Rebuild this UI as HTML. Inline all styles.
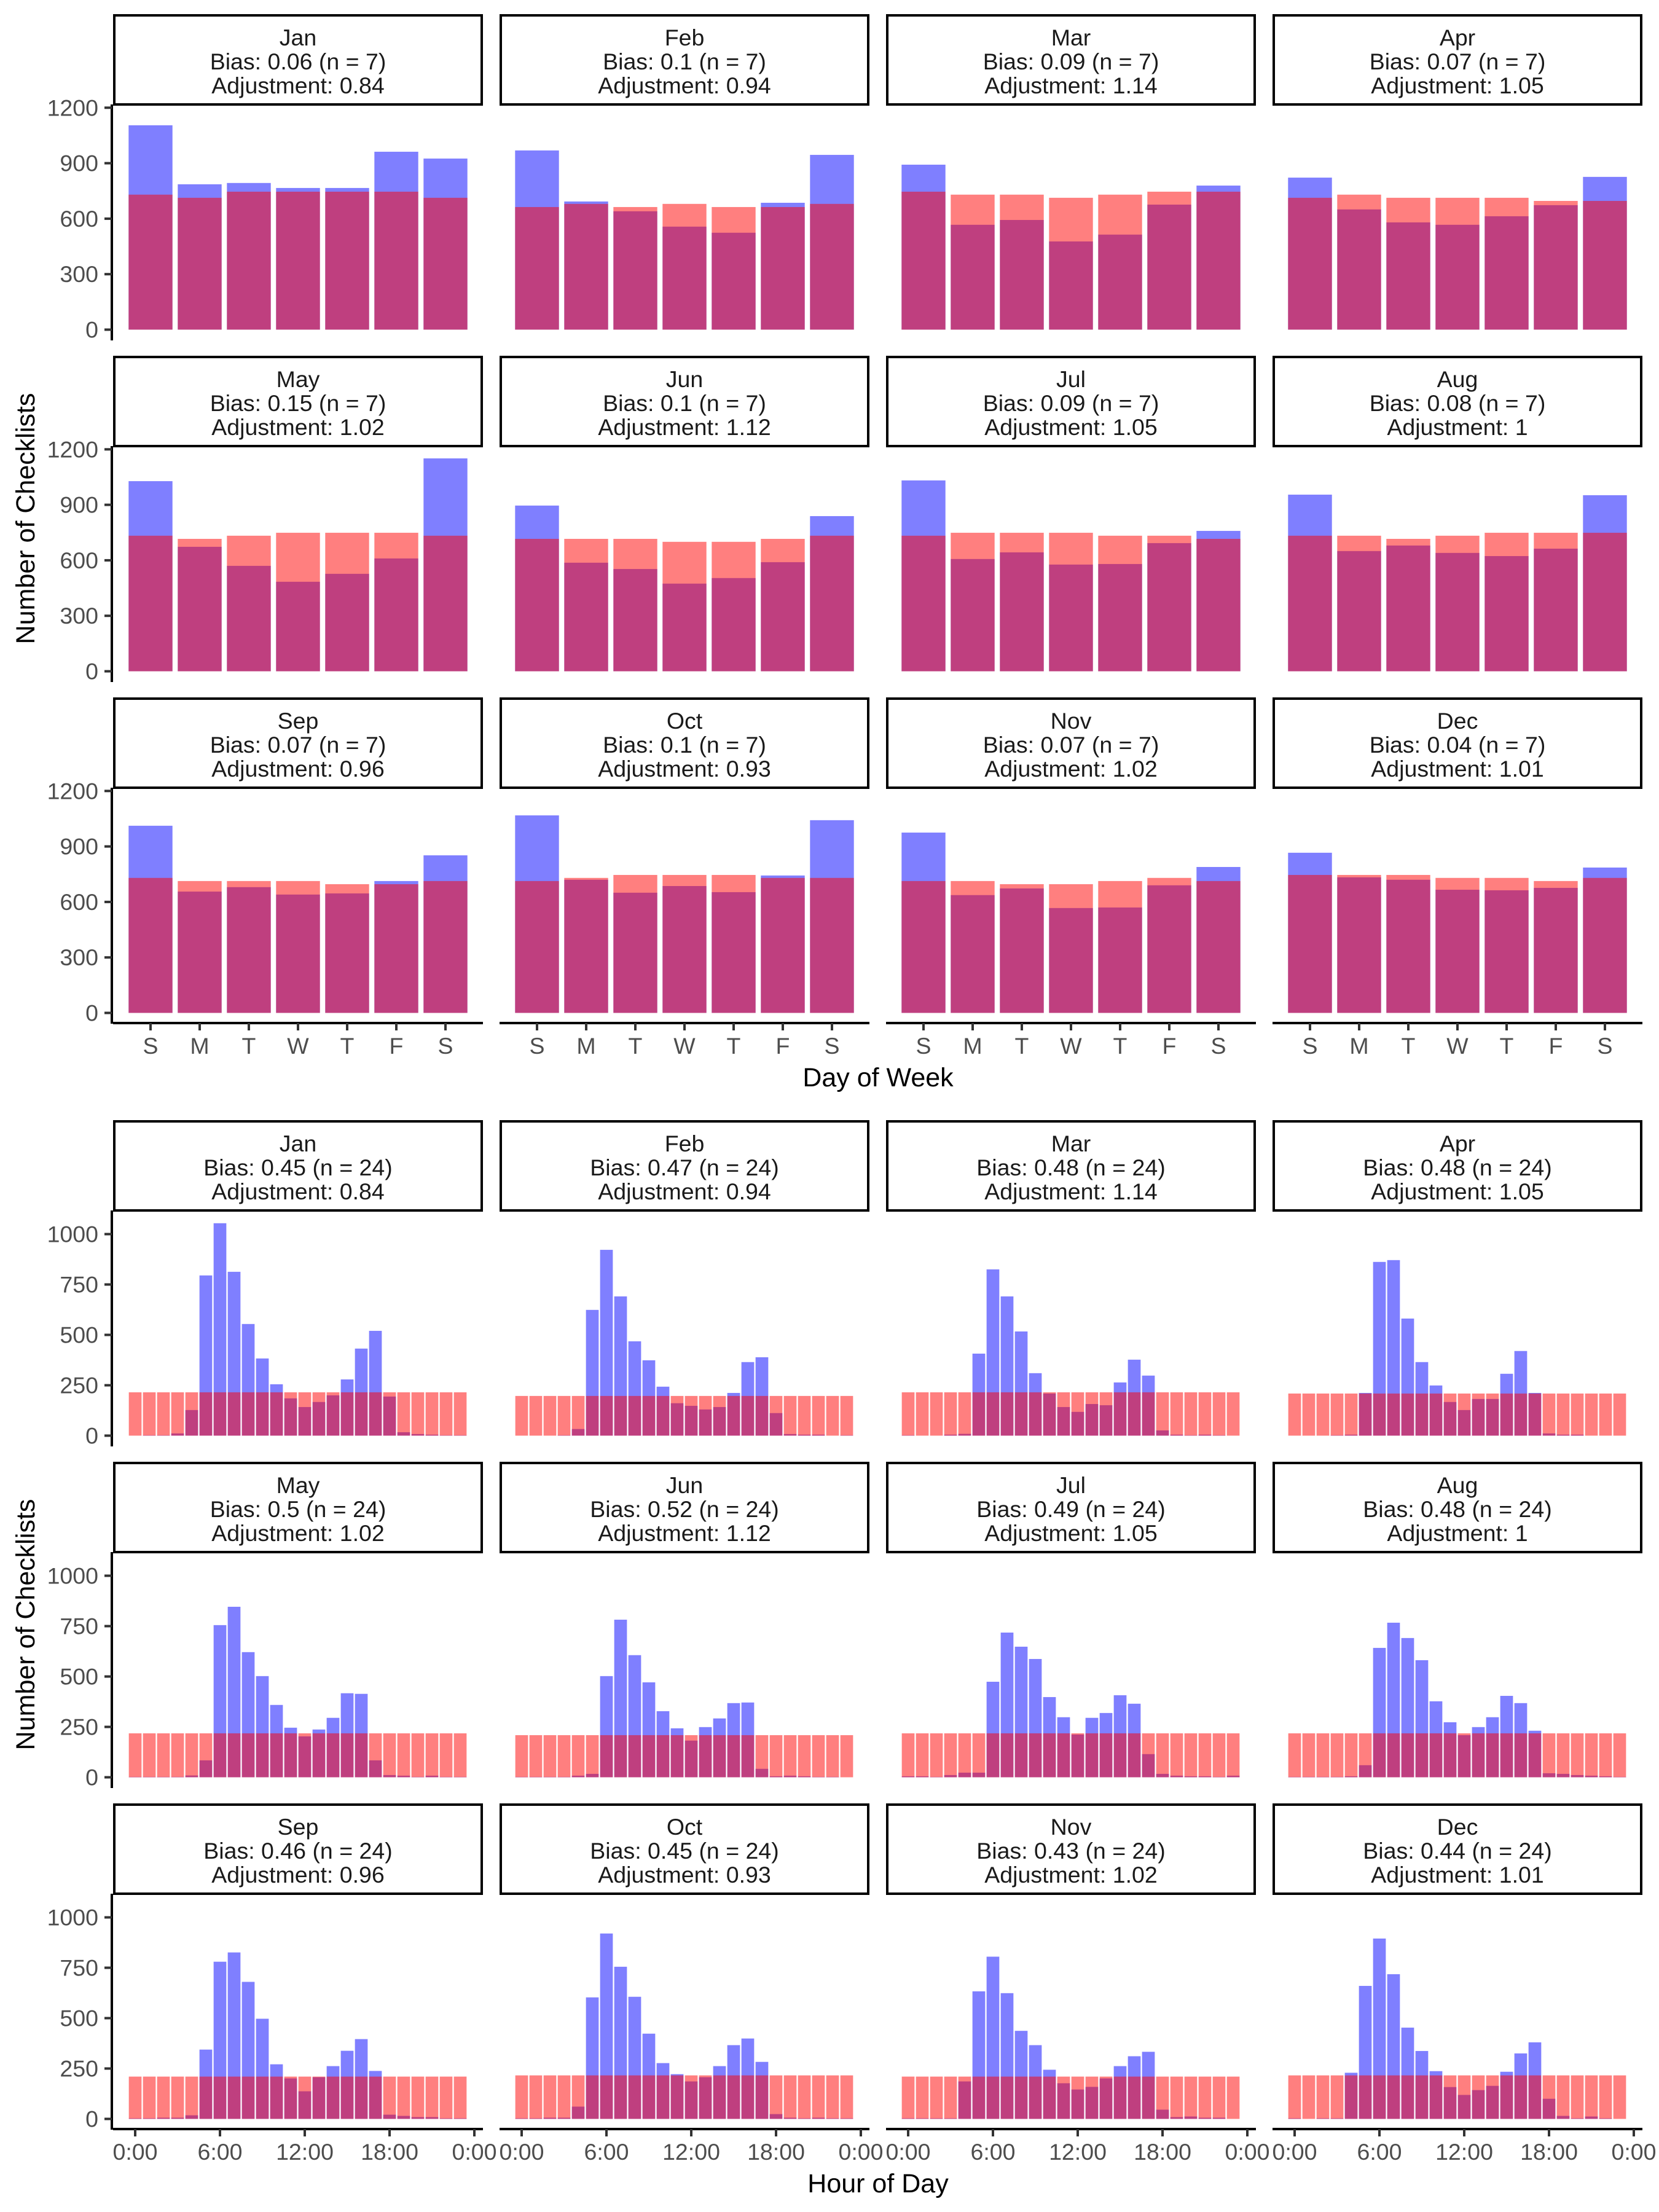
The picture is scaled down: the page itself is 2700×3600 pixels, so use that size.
<!DOCTYPE html>
<html><head><meta charset="utf-8"><title>Checklist bias by day and hour</title>
<style>
html,body{margin:0;padding:0;background:#fff;}
svg{display:block;font-family:"Liberation Sans",Arial,sans-serif;}
</style></head>
<body>
<svg id="chart" xmlns="http://www.w3.org/2000/svg" width="2700" height="3600" viewBox="0 0 2700 3600">
<rect x="0" y="0" width="2700" height="3600" fill="#fff"/>
<text x="0" y="0" transform="translate(56,844) rotate(-90)" font-size="43" text-anchor="middle" fill="#000">Number of Checklists</text>
<text x="1429" y="1768" font-size="43" text-anchor="middle" fill="#000">Day of Week</text>
<text x="0" y="0" transform="translate(56,2644) rotate(-90)" font-size="43" text-anchor="middle" fill="#000">Number of Checklists</text>
<text x="1429" y="3568" font-size="43" text-anchor="middle" fill="#000">Hour of Day</text>
</svg>
<script>
const months = ["Jan","Feb","Mar","Apr","May","Jun","Jul","Aug","Sep","Oct","Nov","Dec"];
const dayLabels = ["S","M","T","W","T","F","S"];
const dayBiasText = ["0.06","0.1","0.09","0.07","0.15","0.1","0.09","0.08","0.07","0.1","0.07","0.04"];
const hourBiasText = ["0.45","0.47","0.48","0.48","0.5","0.52","0.49","0.48","0.46","0.45","0.43","0.44"];
const adjustText = ["0.84","0.94","1.14","1.05","1.02","1.12","1.05","1","0.96","0.93","1.02","1.01"];
const dayObserved = [
 [1105,786,793,766,766,962,925],
 [969,693,640,557,524,686,945],
 [892,567,593,477,514,676,779],
 [822,650,580,567,613,673,826],
 [1028,673,570,484,527,610,1151],
 [896,587,553,474,504,590,839],
 [1032,607,643,577,580,693,759],
 [955,650,680,640,623,663,952],
 [1012,656,680,640,646,713,852],
 [1068,720,650,686,653,743,1042],
 [975,637,673,567,570,690,789],
 [866,733,720,666,663,676,786]
];
const dayExpected = [
 [730,713,746,746,746,746,713],
 [663,680,663,680,663,663,680],
 [746,730,730,713,730,746,746],
 [713,730,713,713,713,696,696],
 [733,716,733,749,749,749,733],
 [716,716,716,700,700,716,733],
 [733,749,749,749,733,733,716],
 [733,733,716,733,749,749,749],
 [730,713,713,713,696,696,713],
 [713,730,746,746,746,730,730],
 [713,713,696,696,713,730,713],
 [746,746,746,730,730,713,730]
];
const dayTicks = [0,300,600,900,1200];
const hourObserved = [
 [0,2,2,11,127,795,1054,813,554,383,255,185,142,167,200,279,432,520,194,17,8,5,2,2],
 [0,0,0,2,33,624,922,691,468,374,243,161,148,130,142,212,365,389,112,8,5,5,0,2],
 [2,0,0,5,9,407,825,691,517,310,209,142,118,157,151,264,377,298,26,5,2,5,2,0],
 [0,0,0,2,5,212,862,871,581,365,249,167,127,182,182,307,420,212,11,5,5,0,0,0],
 [2,2,2,2,9,84,755,846,621,502,359,246,203,237,295,417,414,84,11,8,2,8,2,2],
 [2,2,2,2,8,17,502,782,606,471,328,243,182,249,292,368,371,42,5,8,5,2,2,0],
 [5,5,2,11,23,23,474,718,648,587,398,298,212,295,319,407,365,115,17,8,5,5,2,8],
 [2,2,2,2,5,60,642,767,691,581,377,273,209,249,298,404,368,231,20,17,11,8,5,2],
 [3,3,6,6,18,344,780,826,680,497,271,201,137,207,262,338,396,238,21,15,9,9,3,3],
 [3,3,6,6,61,603,920,755,606,423,277,222,186,207,262,366,399,283,24,6,3,6,3,3],
 [3,3,3,3,186,633,805,624,437,366,244,177,146,159,201,262,311,333,46,9,12,6,6,0],
 [3,0,3,3,229,660,895,718,453,337,237,158,119,143,164,234,325,380,100,15,3,12,3,0]
];
const hourExpected = [215,197,215,209,218,209,218,218,210,216,210,216];
const hourTicks = [0,250,500,750,1000];
const hourTickValues = [0,6,12,18,24];
const hourTickLabels = ["0:00","6:00","12:00","18:00","0:00"];

const NS = "http://www.w3.org/2000/svg";
const svg = document.getElementById("chart");
const colX = [184,813,1442,2071];
const PW = 602;
function mk(tag, attrs, parent){
  const e = document.createElementNS(NS, tag);
  for (const k in attrs) e.setAttribute(k, attrs[k]);
  (parent||svg).appendChild(e);
  return e;
}
function dayX(x0,i){ return x0 + 61 + 80*i; }
function hourX(x0,h){ return x0 + 36 + 23*h; }
function yDay(zero,v){ return zero - v*0.301; }
function yHour(zero,v){ return zero - v*0.328; }

function drawPanel(section, m){
  const r = Math.floor(m/4), c = m%4;
  const x0 = colX[c];
  const top = 23 + 1800*section + 556*r;
  const zero = top + 513.5;
  const g = mk("g", {});
  
  
  const strip = mk("rect", {x:x0+2, y:top+2, width:PW-4, height:145, fill:"#fff", stroke:"#000", "stroke-width":4}, g);
  
  
  const lines = [months[m],
    "Bias: " + (section===0?dayBiasText[m]:hourBiasText[m]) + " (n = " + (section===0?7:24) + ")",
    "Adjustment: " + adjustText[m]];
  lines.forEach((t,i)=>{
    const tx = mk("text", {x:x0+PW/2, y:top+51+39*i, "font-size":37.5, "text-anchor":"middle", fill:"#1a1a1a"}, g);
    tx.textContent = t;
    
    
  });
  if (section===0){
    for (let i=0;i<7;i++){
      const cx = dayX(x0,i), w = 71.4;
      const b = mk("rect", {x:cx-w/2, y:yDay(zero,dayObserved[m][i]), width:w, height:dayObserved[m][i]*0.301, fill:"rgba(0,0,255,0.5)"}, g);
      
      
      const rb = mk("rect", {x:cx-w/2, y:yDay(zero,dayExpected[m][i]), width:w, height:dayExpected[m][i]*0.301, fill:"rgba(255,0,0,0.5)"}, g);
      
      
    }
  } else {
    for (let h=0;h<24;h++){
      const cx = hourX(x0,h), w = 20.7;
      const v = hourObserved[m][h];
      const b = mk("rect", {x:cx-w/2, y:yHour(zero,v), width:w, height:v*0.328, fill:"rgba(0,0,255,0.5)"}, g);
      
      
      const rb = mk("rect", {x:cx-w/2, y:yHour(zero,hourExpected[m]), width:w, height:hourExpected[m]*0.328, fill:"rgba(255,0,0,0.5)"}, g);
      
      
    }
  }
  if (c===0){
    const ax = mk("line", {x1:x0-2, y1:top+147, x2:x0-2, y2:top+531, stroke:"#000", "stroke-width":4}, g);
    
    
    const ticks = section===0?dayTicks:hourTicks;
    ticks.forEach(t=>{
      const y = section===0?yDay(zero,t):yHour(zero,t);
      const tk = mk("line", {x1:x0-14, y1:y, x2:x0-2, y2:y, stroke:"#333", "stroke-width":4}, g);
      
      
      const tl = mk("text", {x:x0-24, y:y+13, "font-size":37.5, "text-anchor":"end", fill:"#4d4d4d"}, g);
      tl.textContent = t;
      
      
    });
  }
  if (r===2){
    const xl = mk("line", {x1:x0, y1:top+530, x2:x0+PW, y2:top+530, stroke:"#000", "stroke-width":4}, g);
    
    
    const n = section===0?7:5;
    for (let i=0;i<n;i++){
      const x = section===0?dayX(x0,i):hourX(x0,hourTickValues[i]);
      const tk = mk("line", {x1:x, y1:top+530, x2:x, y2:top+542, stroke:"#333", "stroke-width":4}, g);
      
      
      const tl = mk("text", {x:x, y:top+580, "font-size":37.5, "text-anchor":"middle", fill:"#4d4d4d"}, g);
      tl.textContent = section===0?dayLabels[i]:hourTickLabels[i];
      
      
    }
  }
}
for (let s=0;s<2;s++) for (let m=0;m<12;m++) drawPanel(s,m);
</script>
</body></html>
